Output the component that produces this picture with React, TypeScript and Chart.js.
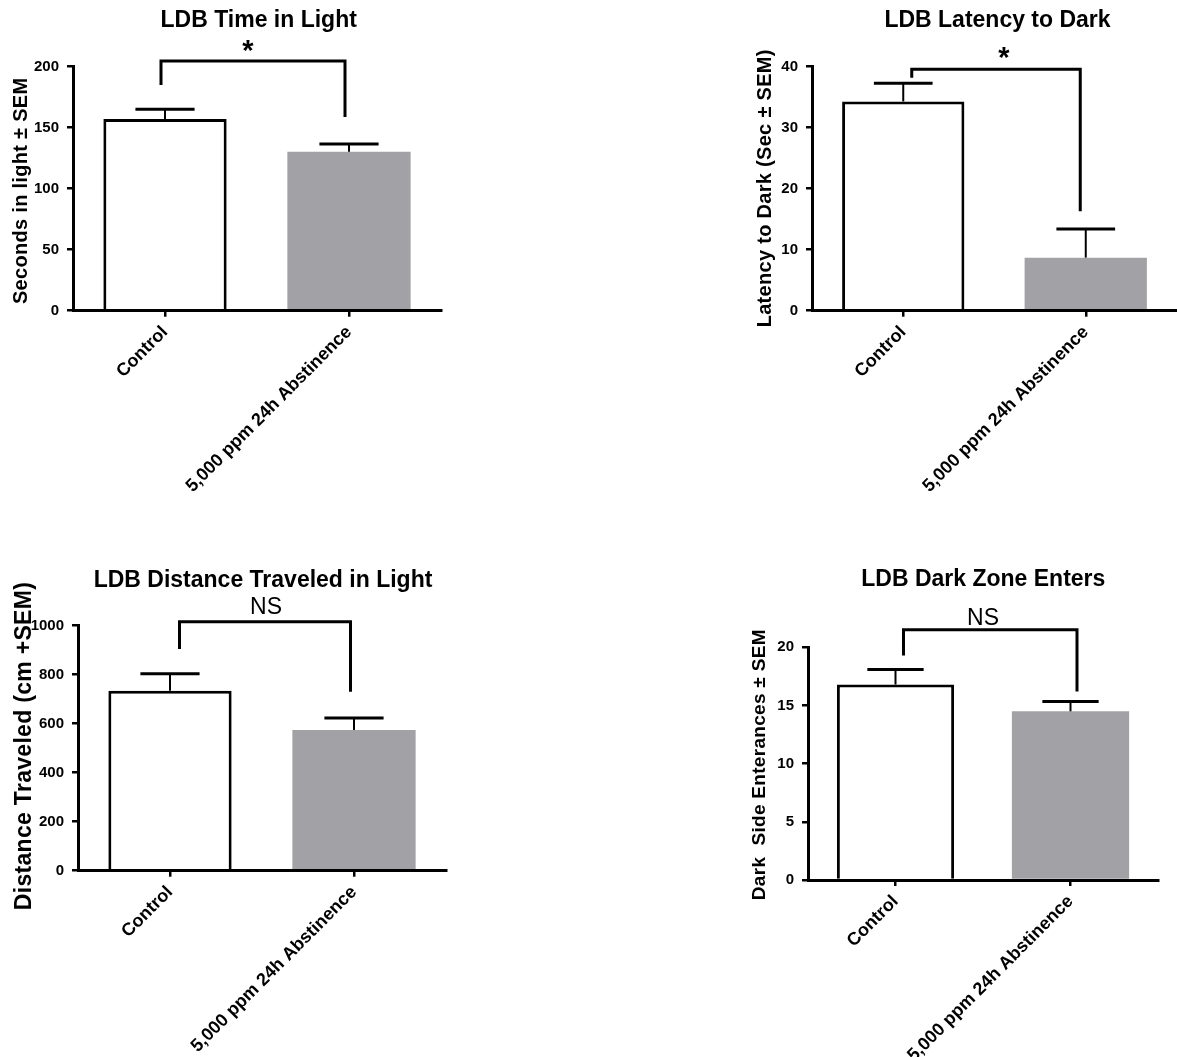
import React, { useEffect, useRef } from 'react';
import { Chart, registerables } from 'chart.js';

Chart.register(...registerables);

const FONT = '"Liberation Sans", Arial, Helvetica, sans-serif';

// ---------- data ----------
const categories = ['Control', '5,000 ppm 24h Abstinence'];

const timeInLightMeans = [157.1, 130.3];
const timeInLightSems = [8.0, 6.3];
const timeInLightTicks = [0, 50, 100, 150, 200];
const timeInLightBracket = [204.7, 185, 158.8]; // top, left leg end, right leg end

const latencyMeans = [34.3, 8.7];
const latencySems = [3.0, 4.7];
const latencyTicks = [0, 10, 20, 30, 40];
const latencyBracket = [39.6, 38.2, 16.3];

const distanceMeans = [735, 574];
const distanceSems = [69, 49];
const distanceTicks = [0, 200, 400, 600, 800, 1000];
const distanceBracket = [1016, 905, 730];

const entersMeans = [16.8, 14.5];
const entersSems = [1.3, 0.85];
const entersTicks = [0, 5, 10, 15, 20];
const entersBracket = [21.5, 19.3, 16.2];

const barColors = ['#ffffff', '#a2a1a6'];
const barBorders = [3, 0];

// ---------- layout / styles ----------
type Panel = {
  title: string;
  yTitle: string;
  means: number[];
  sems: number[];
  ticks: number[];
  bracket: number[];
  sig: string;
  area: { l: number; t: number; r: number; b: number };
  titlePos: [number, number];
  yTitlePos: [number, number];
  yTitleSize: number;
  sigPos: [number, number];
  sigFont: string;
  sigIsStar: boolean;
  legDx: [number, number];
};

const panels: Panel[] = [
  {
    title: 'LDB Time in Light',
    yTitle: 'Seconds in light \u00b1 SEM',
    means: timeInLightMeans,
    sems: timeInLightSems,
    ticks: timeInLightTicks,
    bracket: timeInLightBracket,
    sig: '*',
    area: { l: 73, t: 66.7, r: 441, b: 310.7 },
    titlePos: [258.7, 27],
    yTitlePos: [26.7, 190.8],
    yTitleSize: 20,
    sigPos: [248, 46],
    sigFont: `bold 29px ${FONT}`,
    sigIsStar: true,
    legDx: [-4, -4],
  },
  {
    title: 'LDB Latency to Dark',
    yTitle: 'Latency to Dark (Sec \u00b1 SEM)',
    means: latencyMeans,
    sems: latencySems,
    ticks: latencyTicks,
    bracket: latencyBracket,
    sig: '*',
    area: { l: 812, t: 66.7, r: 1180, b: 310.7 },
    titlePos: [997.5, 27],
    yTitlePos: [770.5, 188.3],
    yTitleSize: 20,
    sigPos: [1004, 52.5],
    sigFont: `bold 29px ${FONT}`,
    sigIsStar: true,
    legDx: [8.5, -5.5],
  },
  {
    title: 'LDB Distance Traveled in Light',
    yTitle: 'Distance Traveled (cm +SEM)',
    means: distanceMeans,
    sems: distanceSems,
    ticks: distanceTicks,
    bracket: distanceBracket,
    sig: 'NS',
    area: { l: 78, t: 625.7, r: 446, b: 870.7 },
    titlePos: [263, 587],
    yTitlePos: [31, 746],
    yTitleSize: 23,
    sigPos: [266, 614],
    sigFont: `23px ${FONT}`,
    sigIsStar: false,
    legDx: [9.5, -3.5],
  },
  {
    title: 'LDB Dark Zone Enters',
    yTitle: 'Dark  Side Enterances \u00b1 SEM',
    means: entersMeans,
    sems: entersSems,
    ticks: entersTicks,
    bracket: entersBracket,
    sig: 'NS',
    area: { l: 808, t: 647.3, r: 1158, b: 880 },
    titlePos: [983.3, 586],
    yTitlePos: [765, 764.7],
    yTitleSize: 19,
    sigPos: [983, 625],
    sigFont: `23px ${FONT}`,
    sigIsStar: false,
    legDx: [8, 6.5],
  },
];

const W = 1177;
const H = 1057;
const Y_BOX = 60;
const X_BOX_MAX = 230;

function makePlugin(p: Panel) {
  return {
    id: 'annot',
    afterDatasetsDraw(chart: any) {
      const ctx = chart.ctx as CanvasRenderingContext2D;
      const ys = chart.scales.y;
      const xs = chart.scales.x;
      const meta = chart.getDatasetMeta(0);
      ctx.save();
      ctx.strokeStyle = '#000';
      ctx.lineCap = 'butt';
      // error bars (upper only)
      meta.data.forEach((bar: any, i: number) => {
        const x = bar.x;
        const top = ys.getPixelForValue(p.means[i]);
        const capY = ys.getPixelForValue(p.means[i] + p.sems[i]);
        const half = bar.width * 0.24;
        ctx.lineWidth = 2;
        ctx.beginPath();
        ctx.moveTo(x, top);
        ctx.lineTo(x, capY);
        ctx.stroke();
        ctx.lineWidth = 3;
        ctx.beginPath();
        ctx.moveTo(x - half, capY);
        ctx.lineTo(x + half, capY);
        ctx.stroke();
      });
      // significance bracket
      const x0 = xs.getPixelForValue(0) + p.legDx[0];
      const x1 = xs.getPixelForValue(1) + p.legDx[1];
      const yTop = ys.getPixelForValue(p.bracket[0]);
      ctx.lineWidth = 3;
      ctx.lineJoin = 'miter';
      ctx.beginPath();
      ctx.moveTo(x0, ys.getPixelForValue(p.bracket[1]));
      ctx.lineTo(x0, yTop);
      ctx.lineTo(x1, yTop);
      ctx.lineTo(x1, ys.getPixelForValue(p.bracket[2]));
      ctx.stroke();
      ctx.restore();
    },
    afterDraw(chart: any) {
      const ctx = chart.ctx as CanvasRenderingContext2D;
      ctx.save();
      ctx.fillStyle = '#000';
      ctx.textBaseline = 'alphabetic';
      // panel title
      ctx.font = `bold 23px ${FONT}`;
      ctx.textAlign = 'center';
      ctx.fillText(p.title, p.titlePos[0], p.titlePos[1]);
      // significance label
      ctx.font = p.sigFont;
      if (p.sigIsStar) {
        const m = ctx.measureText(p.sig);
        const base = p.sigPos[1] + (m.actualBoundingBoxAscent - m.actualBoundingBoxDescent) / 2;
        ctx.fillText(p.sig, p.sigPos[0], base);
      } else {
        ctx.fillText(p.sig, p.sigPos[0], p.sigPos[1]);
      }
      // y axis title
      ctx.translate(p.yTitlePos[0], p.yTitlePos[1]);
      ctx.rotate(-Math.PI / 2);
      ctx.font = `bold ${p.yTitleSize}px ${FONT}`;
      (ctx as any).letterSpacing = '0.3px';
      ctx.fillText(p.yTitle, 0, 0);
      ctx.restore();
    },
  };
}

function makeConfig(p: Panel): any {
  const xBox = Math.min(X_BOX_MAX, Math.floor(H - p.area.b));
  return {
    type: 'bar',
    data: {
      labels: categories,
      datasets: [
        {
          data: p.means,
          backgroundColor: barColors,
          borderColor: '#000',
          borderWidth: barBorders,
          borderSkipped: 'start',
          barPercentage: 0.67,
          categoryPercentage: 1,
        },
      ],
    },
    options: {
      responsive: false,
      animation: false,
      events: [],
      layout: {
        padding: {
          left: p.area.l - Y_BOX,
          right: W - p.area.r,
          top: p.area.t,
          bottom: H - p.area.b - xBox,
        },
      },
      plugins: {
        legend: { display: false },
        tooltip: { enabled: false },
        title: { display: false },
      },
      scales: {
        x: {
          offset: true,
          grid: {
            display: true,
            drawOnChartArea: false,
            drawTicks: true,
            tickLength: 6,
            offset: false,
            color: '#000',
            lineWidth: 2.5,
          },
          border: { display: true, color: '#000', width: 3, z: 1 },
          ticks: {
            color: '#000',
            font: { family: FONT, size: 18, weight: 'bold' },
            maxRotation: 45,
            minRotation: 45,
            padding: 5,
            labelOffset: 0,
            autoSkip: false,
          },
          afterFit: (s: any) => {
            s.height = xBox;
          },
        },
        y: {
          min: p.ticks[0],
          max: p.ticks[p.ticks.length - 1],
          ticks: {
            stepSize: p.ticks[1] - p.ticks[0],
            color: '#000',
            font: { family: FONT, size: 15, weight: 'bold' },
            padding: 8,
            callback: (v: any) => String(v),
          },
          grid: {
            display: true,
            drawOnChartArea: false,
            drawTicks: true,
            tickLength: 6,
            color: '#000',
            lineWidth: 2.5,
          },
          border: { display: true, color: '#000', width: 3, z: 1 },
          afterFit: (s: any) => {
            s.width = Y_BOX;
          },
        },
      },
    },
    plugins: [makePlugin(p)],
  };
}

function PanelChart({ p }: { p: Panel }) {
  const ref = useRef<HTMLCanvasElement>(null);
  useEffect(() => {
    if (!ref.current) return;
    const chart = new Chart(ref.current, makeConfig(p));
    return () => chart.destroy();
  }, [p]);
  return (
    <canvas
      ref={ref}
      width={W}
      height={H}
      style={{ position: 'absolute', left: 0, top: 0, width: W, height: H }}
    />
  );
}

export default function App() {
  return (
    <div
      style={{
        position: 'absolute',
        left: 0,
        top: 0,
        width: W,
        height: H,
        background: '#ffffff',
        overflow: 'hidden',
      }}
    >
      {panels.map((p, i) => (
        <PanelChart key={i} p={p} />
      ))}
    </div>
  );
}
